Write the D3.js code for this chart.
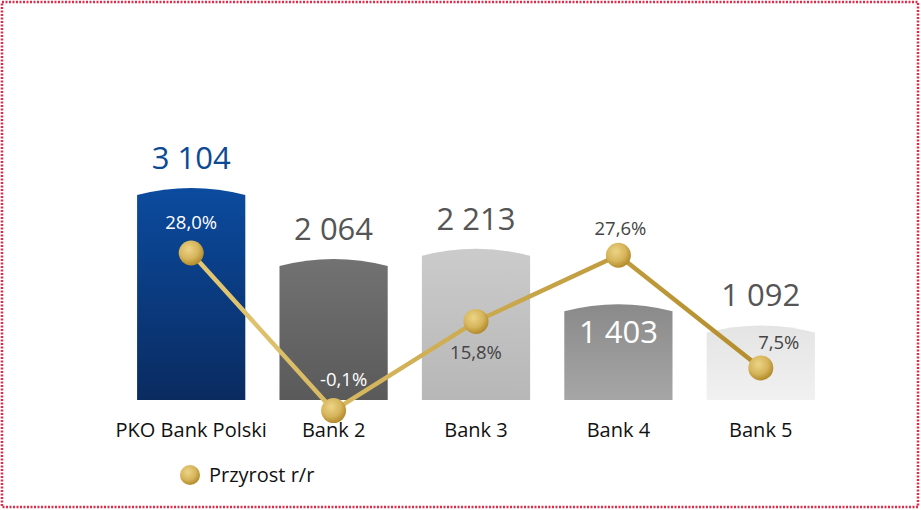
<!DOCTYPE html>
<html lang="pl">
<head>
<meta charset="UTF-8">
<title>Przyrost r/r</title>
<script src="https://cdn.jsdelivr.net/npm/d3@7"></script>
<style>
    html, body { margin: 0; padding: 0; background: #fff; }
    svg { display: block; font-family: "Open Sans", "Noto Sans", sans-serif; }
</style>
</head>
<body>
<script>

    // DATA
    const banks = ["PKO Bank Polski", "Bank 2", "Bank 3", "Bank 4", "Bank 5"]
    const values = [3104, 2064, 2213, 1403, 1092]
    const valueLabels = ["3 104", "2 064", "2 213", "1 403", "1 092"]
    const growth = [28.0, -0.1, 15.8, 27.6, 7.5]
    const growthLabels = ["28,0%", "-0,1%", "15,8%", "27,6%", "7,5%"]
    const legendLabel = "Przyrost r/r"

    // STYLE PER BAR
    const barTop = ["#0b4b9f", "#727272", "#cbcbcb", "#8a8a8a", "#e4e4e4"]
    const barBottom = ["#0a2b60", "#5a5a5a", "#b7b7b7", "#a6a6a6", "#f1f1f1"]
    const valueColor = ["#0d4a94", "#555555", "#555555", "#ffffff", "#555555"]
    const pctColor = ["#ffffff", "#ffffff", "#444444", "#444444", "#444444"]

    const W = 921, H = 510

    let svg = d3.select("body").append("svg")
        .attr("width", W).attr("height", H)

    // SCALES
    let x = d3.scaleBand().domain(banks).range([120, 832]).paddingInner(0.24).paddingOuter(0.12)
    let y = d3.scaleLinear().domain([0, 3104]).range([400, 188])
    let yPct = d3.scaleLinear().domain([0, 28]).range([410, 253])

    let defs = svg.append("defs")
    banks.forEach((b, i) => {
        let g = defs.append("linearGradient").attr("id", "bar" + i)
            .attr("x1", 0).attr("y1", 0).attr("x2", 0).attr("y2", 1)
        g.append("stop").attr("offset", "0%").attr("stop-color", barTop[i])
        g.append("stop").attr("offset", "100%").attr("stop-color", barBottom[i])
    })
    let lg = defs.append("linearGradient").attr("id", "lineGrad")
        .attr("gradientUnits", "userSpaceOnUse")
        .attr("x1", 190).attr("y1", 0).attr("x2", 760).attr("y2", 0)
    lg.append("stop").attr("offset", "0%").attr("stop-color", "#e3c874")
    lg.append("stop").attr("offset", "100%").attr("stop-color", "#b48d2c")
    let rg = defs.append("radialGradient").attr("id", "dotGrad")
        .attr("cx", "40%").attr("cy", "35%").attr("r", "65%")
    rg.append("stop").attr("offset", "0%").attr("stop-color", "#ecd486")
    rg.append("stop").attr("offset", "60%").attr("stop-color", "#d6b55c")
    rg.append("stop").attr("offset", "100%").attr("stop-color", "#b38b2b")

    // BORDER
    svg.append("rect")
        .attr("x", 2).attr("y", 2).attr("width", W - 5).attr("height", H - 5)
        .attr("fill", "none").attr("stroke", "#de2d4a").attr("stroke-width", 2.5)
        .attr("stroke-dasharray", "2,1.5")

    // BARS (curved top)
    const bulge = 7
    svg.selectAll(".bar").data(values).enter().append("path")
        .attr("class", "bar")
        .attr("fill", (d, i) => "url(#bar" + i + ")")
        .attr("d", (d, i) => {
            let x0 = x(banks[i]), x1 = x0 + x.bandwidth(), t = y(d), b = y(0)
            let cx = x0 + x.bandwidth() / 2
            return `M${x0},${b}L${x0},${t + bulge}Q${cx},${t - bulge} ${x1},${t + bulge}L${x1},${b}Z`
        })

    // VALUE LABELS
    svg.selectAll(".val").data(values).enter().append("text")
        .attr("class", "val")
        .attr("x", (d, i) => x(banks[i]) + x.bandwidth() / 2)
        .attr("y", (d, i) => i == 3 ? y(d) + 39 : y(d) - 19)
        .attr("text-anchor", "middle")
        .style("font-size", "31px")
        .attr("fill", (d, i) => valueColor[i])
        .text((d, i) => valueLabels[i])

    // CATEGORY AXIS
    let xAxis = d3.axisBottom(x).tickSize(0).tickPadding(0)
    let gx = svg.append("g").attr("transform", "translate(0,423)").call(xAxis)
    gx.select(".domain").remove()
    gx.selectAll("text")
        .attr("dy", "0.71em")
        .style("font-size", "20px")
        .style("font-family", "'Open Sans', 'Noto Sans', sans-serif")
        .attr("fill", "#111")

    // GROWTH LINE
    let cxOf = i => x(banks[i]) + x.bandwidth() / 2
    let line = d3.line()
        .x((d, i) => cxOf(i))
        .y(d => yPct(d))
    svg.append("path")
        .datum(growth)
        .attr("d", line)
        .attr("fill", "none")
        .attr("stroke", "url(#lineGrad)")
        .attr("stroke-width", 4.5)

    svg.selectAll(".dot").data(growth).enter().append("circle")
        .attr("class", "dot")
        .attr("cx", (d, i) => cxOf(i))
        .attr("cy", d => yPct(d))
        .attr("r", 12.5)
        .attr("fill", "url(#dotGrad)")

    // GROWTH LABELS
    const pctDx = [0, 10, 0, 2, 18]
    const pctDy = [-24, -25, 38, -20, -19]
    svg.selectAll(".pct").data(growth).enter().append("text")
        .attr("class", "pct")
        .attr("x", (d, i) => cxOf(i) + pctDx[i])
        .attr("y", (d, i) => yPct(d) + pctDy[i])
        .attr("text-anchor", "middle")
        .style("font-size", "18.5px")
        .attr("fill", (d, i) => pctColor[i])
        .text((d, i) => growthLabels[i])

    // LEGEND
    svg.append("circle").attr("cx", 190).attr("cy", 475).attr("r", 10).attr("fill", "url(#dotGrad)")
    svg.append("text").attr("x", 209).attr("y", 482)
        .style("font-size", "20px").attr("fill", "#111")
        .text(legendLabel)

</script>
</body>
</html>
